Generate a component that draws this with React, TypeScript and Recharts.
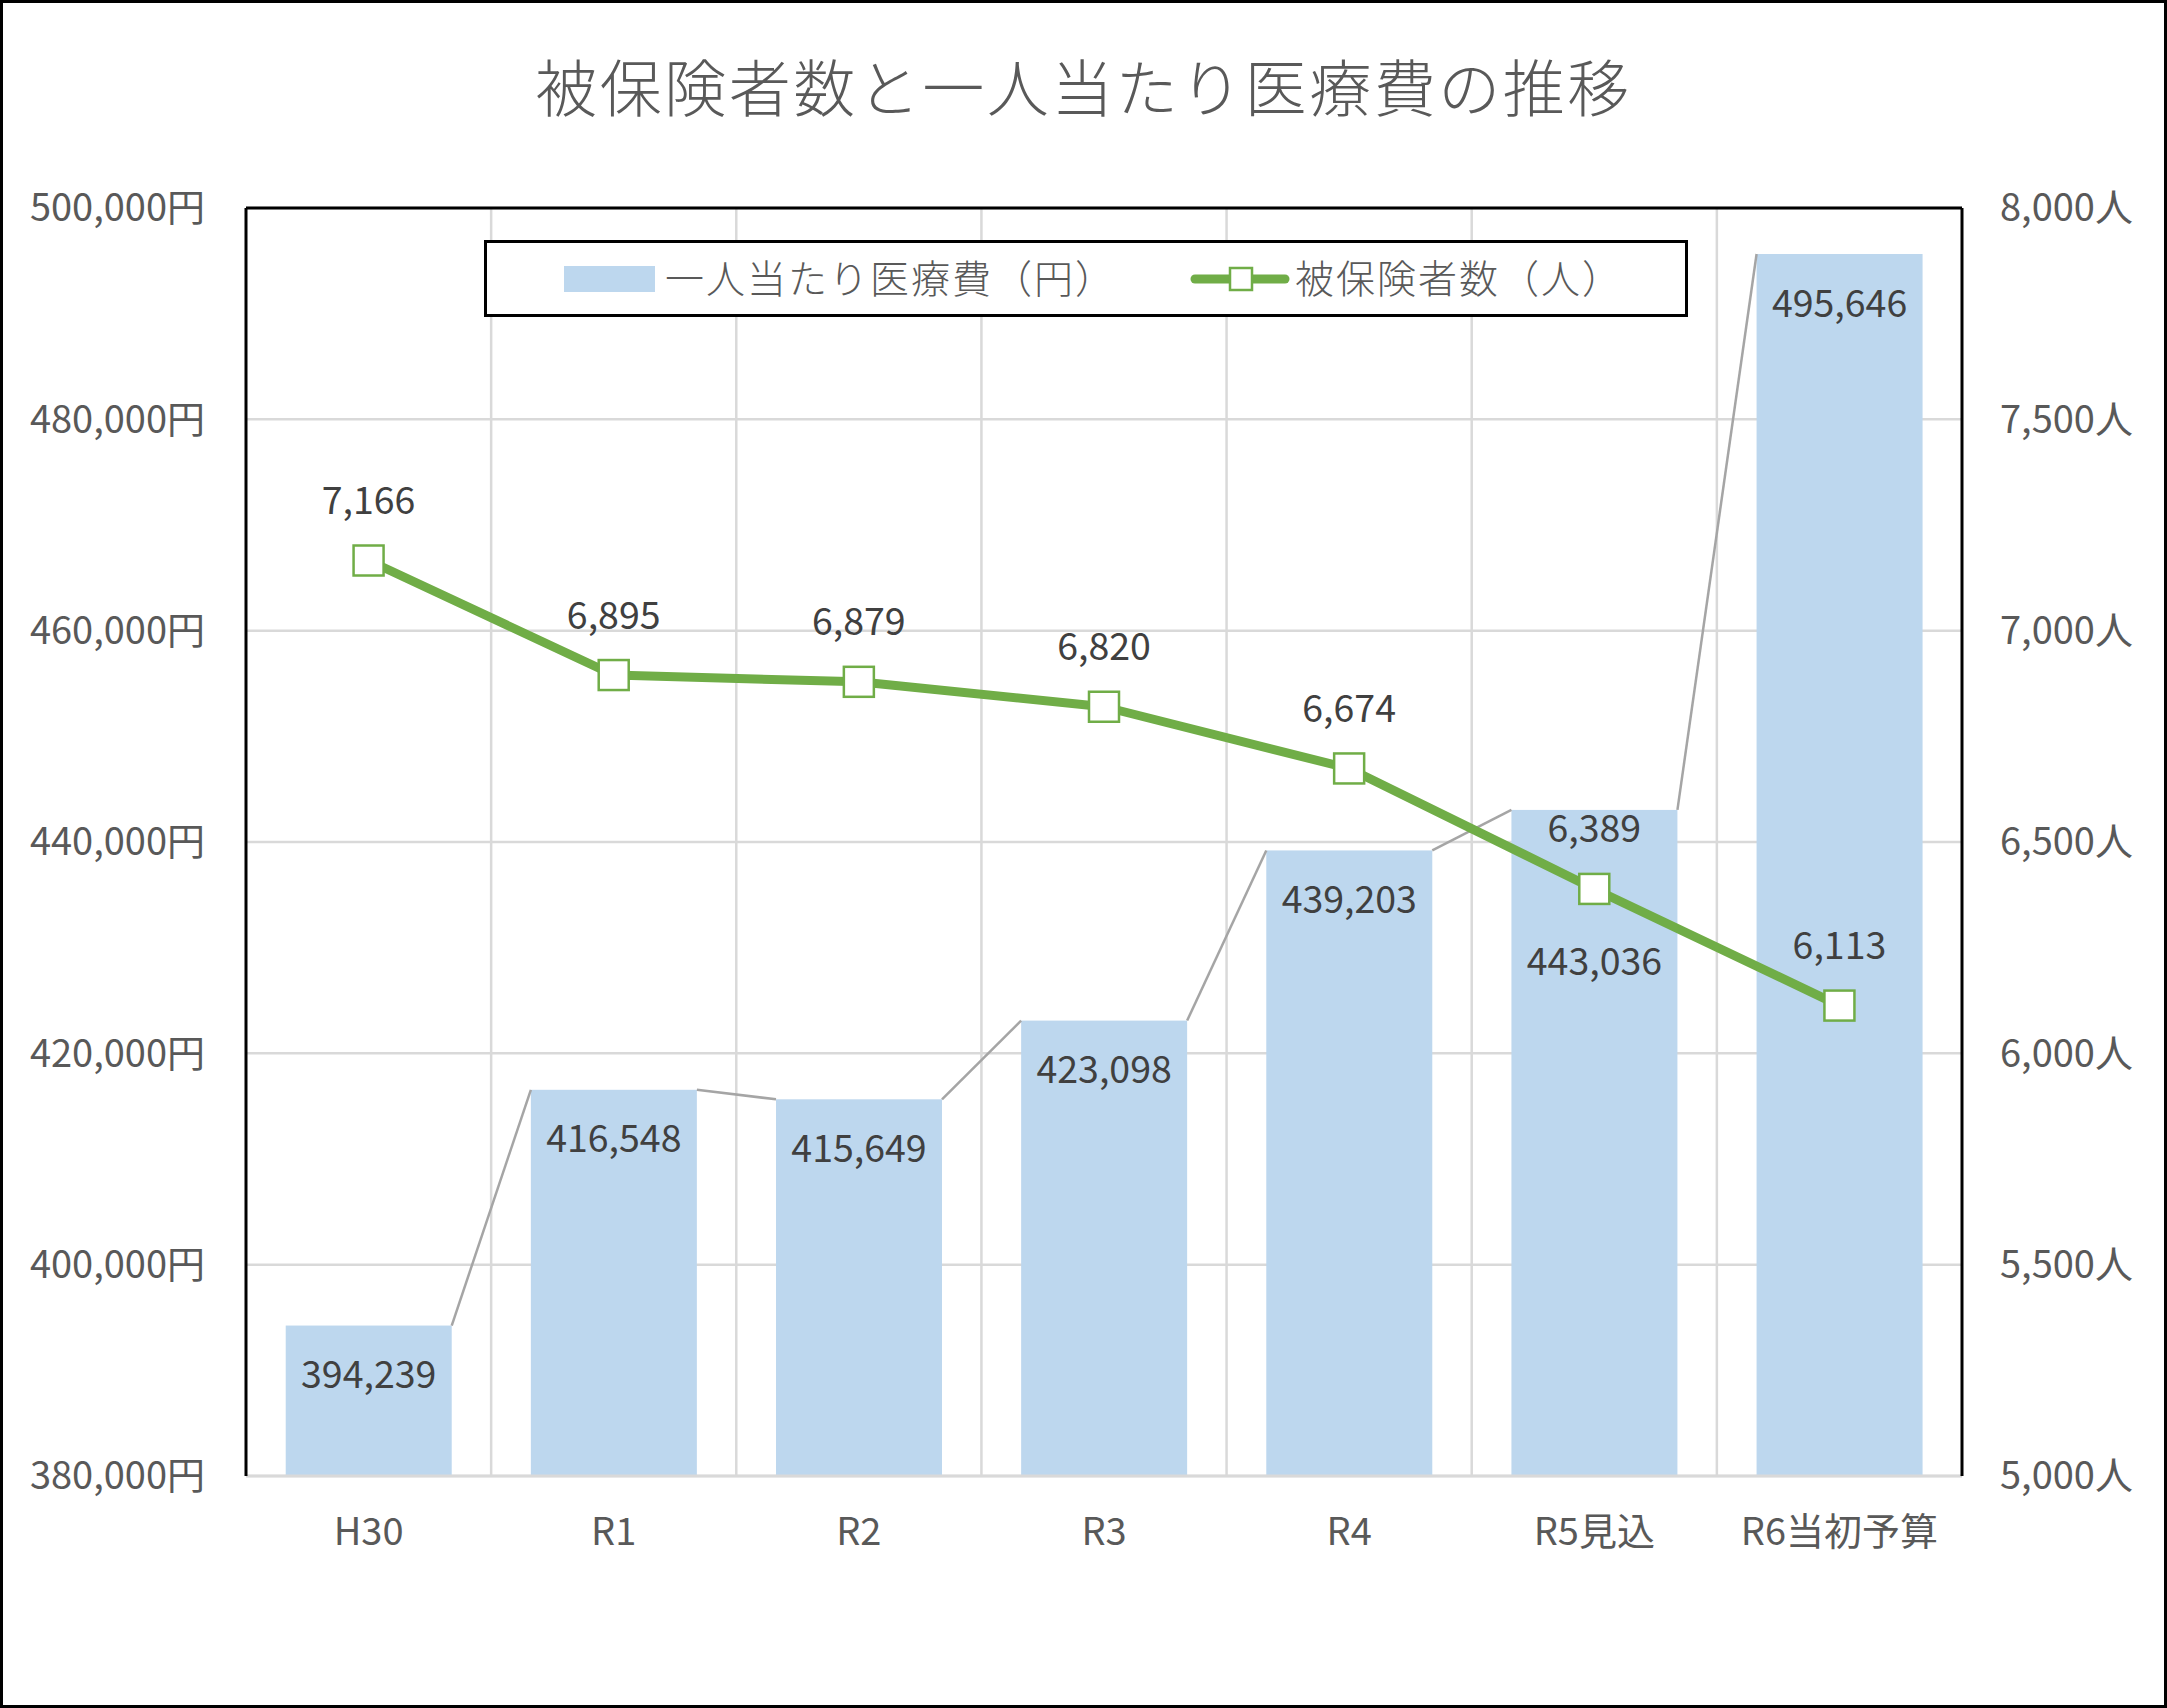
import React from 'react';
import {
  ComposedChart,
  Bar,
  Line,
  XAxis,
  YAxis,
  CartesianGrid,
  LabelList,
  Legend,
  ReferenceLine,
} from 'recharts';

const YEARS = ['H30', 'R1', 'R2', 'R3', 'R4', 'R5見込', 'R6当初予算'];
const COST_PER_PERSON = [394239, 416548, 415649, 423098, 439203, 443036, 495646];
const INSURED = [7166, 6895, 6879, 6820, 6674, 6389, 6113];
const COST_TICKS = [380000, 400000, 420000, 440000, 460000, 480000, 500000];
const INSURED_TICKS = [5000, 5500, 6000, 6500, 7000, 7500, 8000];

const TITLE = '被保険者数と一人当たり医療費の推移';
const COST_NAME = '一人当たり医療費（円）';
const INSURED_NAME = '被保険者数（人）';

const data = YEARS.map((year, i) => ({ year, cost: COST_PER_PERSON[i], insured: INSURED[i] }));

// layout
const W = 2167;
const H = 1708;
const LEFT_AXIS_W = 246;
const RIGHT_AXIS_W = 205;
const TOP = 208;
const X_AXIS_H = 100;
const BOTTOM = 132;
const BAND = (W - LEFT_AXIS_W - RIGHT_AXIS_W) / YEARS.length;

const FONT = '"Noto Sans CJK JP", "Noto Sans", sans-serif';
const BLUE = '#BDD7EE';
const GREEN = '#70AD47';
const GRID = '#D9D9D9';
const TICK = '#595959';
const LABEL = '#404040';
const NUM_SIZE = 37.5;
const TICK_SIZE = 38;

// Excel moved this one bar label down so it clears the line label
const LOWERED_BAR = 'R5見込';

const fmt = (v: number) => v.toLocaleString('en-US');

// bar + the grey "series line" joining it to the previous bar's top corner
function CostBar(props: any) {
  const { x, y, width, height, index } = props;
  let connector = null;
  if (index > 0) {
    const base = y + height;
    const perYen = height / (COST_PER_PERSON[index] - COST_TICKS[0]);
    const prevY = base - (COST_PER_PERSON[index - 1] - COST_TICKS[0]) * perYen;
    connector = (
      <line x1={x - BAND + width} y1={prevY} x2={x} y2={y} stroke="#A5A5A5" strokeWidth={2.5} />
    );
  }
  return (
    <g>
      <rect x={x} y={y} width={width} height={height} fill={BLUE} />
      {connector}
    </g>
  );
}

function CostLabel(props: any) {
  const { x, y, width, index, value } = props;
  const drop = YEARS[index] === LOWERED_BAR ? 152 : 49;
  return (
    <text
      x={x + width / 2}
      y={y + drop + NUM_SIZE * 0.36}
      textAnchor="middle"
      fontSize={NUM_SIZE}
      fontFamily={FONT}
      fill={LABEL}
    >
      {fmt(value)}
    </text>
  );
}

function InsuredLabel(props: any) {
  const { x, y, value } = props;
  return (
    <text
      x={x}
      y={y - 60 + NUM_SIZE * 0.36}
      textAnchor="middle"
      fontSize={NUM_SIZE}
      fontFamily={FONT}
      fill={LABEL}
    >
      {fmt(value)}
    </text>
  );
}

function SquareDot(props: any) {
  const { cx, cy, index } = props;
  return (
    <rect
      key={`dot-${index}`}
      x={cx - 15}
      y={cy - 15}
      width={30}
      height={30}
      fill="#FFFFFF"
      stroke={GREEN}
      strokeWidth={2.5}
    />
  );
}

function LegendBox() {
  const textProps = { fontSize: 39, fontFamily: FONT, fontWeight: 300, fill: TICK, letterSpacing: 2 };
  return (
    <svg width={1204} height={77} style={{ display: 'block' }}>
      <rect x={1.5} y={1.5} width={1201} height={74} fill="#FFFFFF" stroke="#000000" strokeWidth={3} />
      <rect x={80} y={26} width={91} height={26} fill={BLUE} />
      <text x={181} y={39 + 14} {...textProps}>{COST_NAME}</text>
      <line x1={711} y1={39} x2={801} y2={39} stroke={GREEN} strokeWidth={9} strokeLinecap="round" />
      <rect x={746} y={28} width={22} height={22} fill="#FFFFFF" stroke={GREEN} strokeWidth={2.5} />
      <text x={811} y={39 + 14} {...textProps}>{INSURED_NAME}</text>
    </svg>
  );
}

export default function App() {
  const tick = { fill: TICK, fontSize: TICK_SIZE, fontFamily: FONT };
  return (
    <div style={{ position: 'absolute', left: 0, top: 0, width: W, height: H, background: '#FFFFFF' }}>
      <div
        style={{
          position: 'absolute',
          left: 0,
          top: 45,
          width: W,
          height: 80,
          lineHeight: '80px',
          textAlign: 'center',
          fontSize: 62,
          fontWeight: 300,
          letterSpacing: 2.5,
          fontFamily: FONT,
          color: TICK,
        }}
      >
        {TITLE}
      </div>
      <ComposedChart
        width={W}
        height={H}
        data={data}
        margin={{ top: TOP, right: 0, bottom: BOTTOM, left: 0 }}
        barCategoryGap="16.2%"
      >
        <CartesianGrid
          yAxisId="left"
          stroke={GRID}
          strokeWidth={2.5}
          verticalCoordinatesGenerator={({ offset }: any) =>
            YEARS.slice(1).map((_, i) => offset.left + ((i + 1) * offset.width) / YEARS.length)
          }
        />
        <XAxis
          dataKey="year"
          height={X_AXIS_H}
          interval={0}
          tick={tick}
          tickLine={false}
          tickSize={0}
          tickMargin={42}
          axisLine={{ stroke: GRID, strokeWidth: 3 }}
        />
        <YAxis
          yAxisId="left"
          orientation="left"
          width={LEFT_AXIS_W}
          domain={[COST_TICKS[0], COST_TICKS[COST_TICKS.length - 1]]}
          ticks={COST_TICKS}
          interval={0}
          tick={tick}
          tickLine={false}
          tickSize={0}
          tickMargin={41}
          tickFormatter={(v: number) => `${fmt(v)}円`}
          axisLine={{ stroke: '#000000', strokeWidth: 3 }}
          allowDataOverflow
        />
        <YAxis
          yAxisId="right"
          orientation="right"
          width={RIGHT_AXIS_W}
          domain={[INSURED_TICKS[0], INSURED_TICKS[INSURED_TICKS.length - 1]]}
          ticks={INSURED_TICKS}
          interval={0}
          tick={tick}
          tickLine={false}
          tickSize={0}
          tickMargin={38}
          tickFormatter={(v: number) => `${fmt(v)}人`}
          axisLine={{ stroke: '#000000', strokeWidth: 3 }}
          allowDataOverflow
        />
        <Bar
          yAxisId="left"
          dataKey="cost"
          name={COST_NAME}
          fill={BLUE}
          shape={(p: any) => <CostBar {...p} />}
          isAnimationActive={false}
        >
          <LabelList dataKey="cost" content={(p: any) => <CostLabel {...p} />} />
        </Bar>
        <Line
          yAxisId="right"
          type="linear"
          dataKey="insured"
          name={INSURED_NAME}
          stroke={GREEN}
          strokeWidth={9}
          strokeLinejoin="round"
          dot={(p: any) => <SquareDot {...p} />}
          activeDot={false}
          isAnimationActive={false}
        >
          <LabelList dataKey="insured" content={(p: any) => <InsuredLabel {...p} />} />
        </Line>
        <ReferenceLine
          yAxisId="left"
          y={COST_TICKS[COST_TICKS.length - 1]}
          stroke="#000000"
          strokeWidth={3}
        />
        <Legend
          layout="horizontal"
          verticalAlign="middle"
          align="center"
          wrapperStyle={{ top: 240, left: 484, width: 1204, height: 77 }}
          content={() => <LegendBox />}
        />
      </ComposedChart>
      <div
        style={{
          position: 'absolute',
          left: 0,
          top: 0,
          width: W,
          height: H,
          boxSizing: 'border-box',
          border: '3px solid #000000',
          pointerEvents: 'none',
        }}
      />
    </div>
  );
}
